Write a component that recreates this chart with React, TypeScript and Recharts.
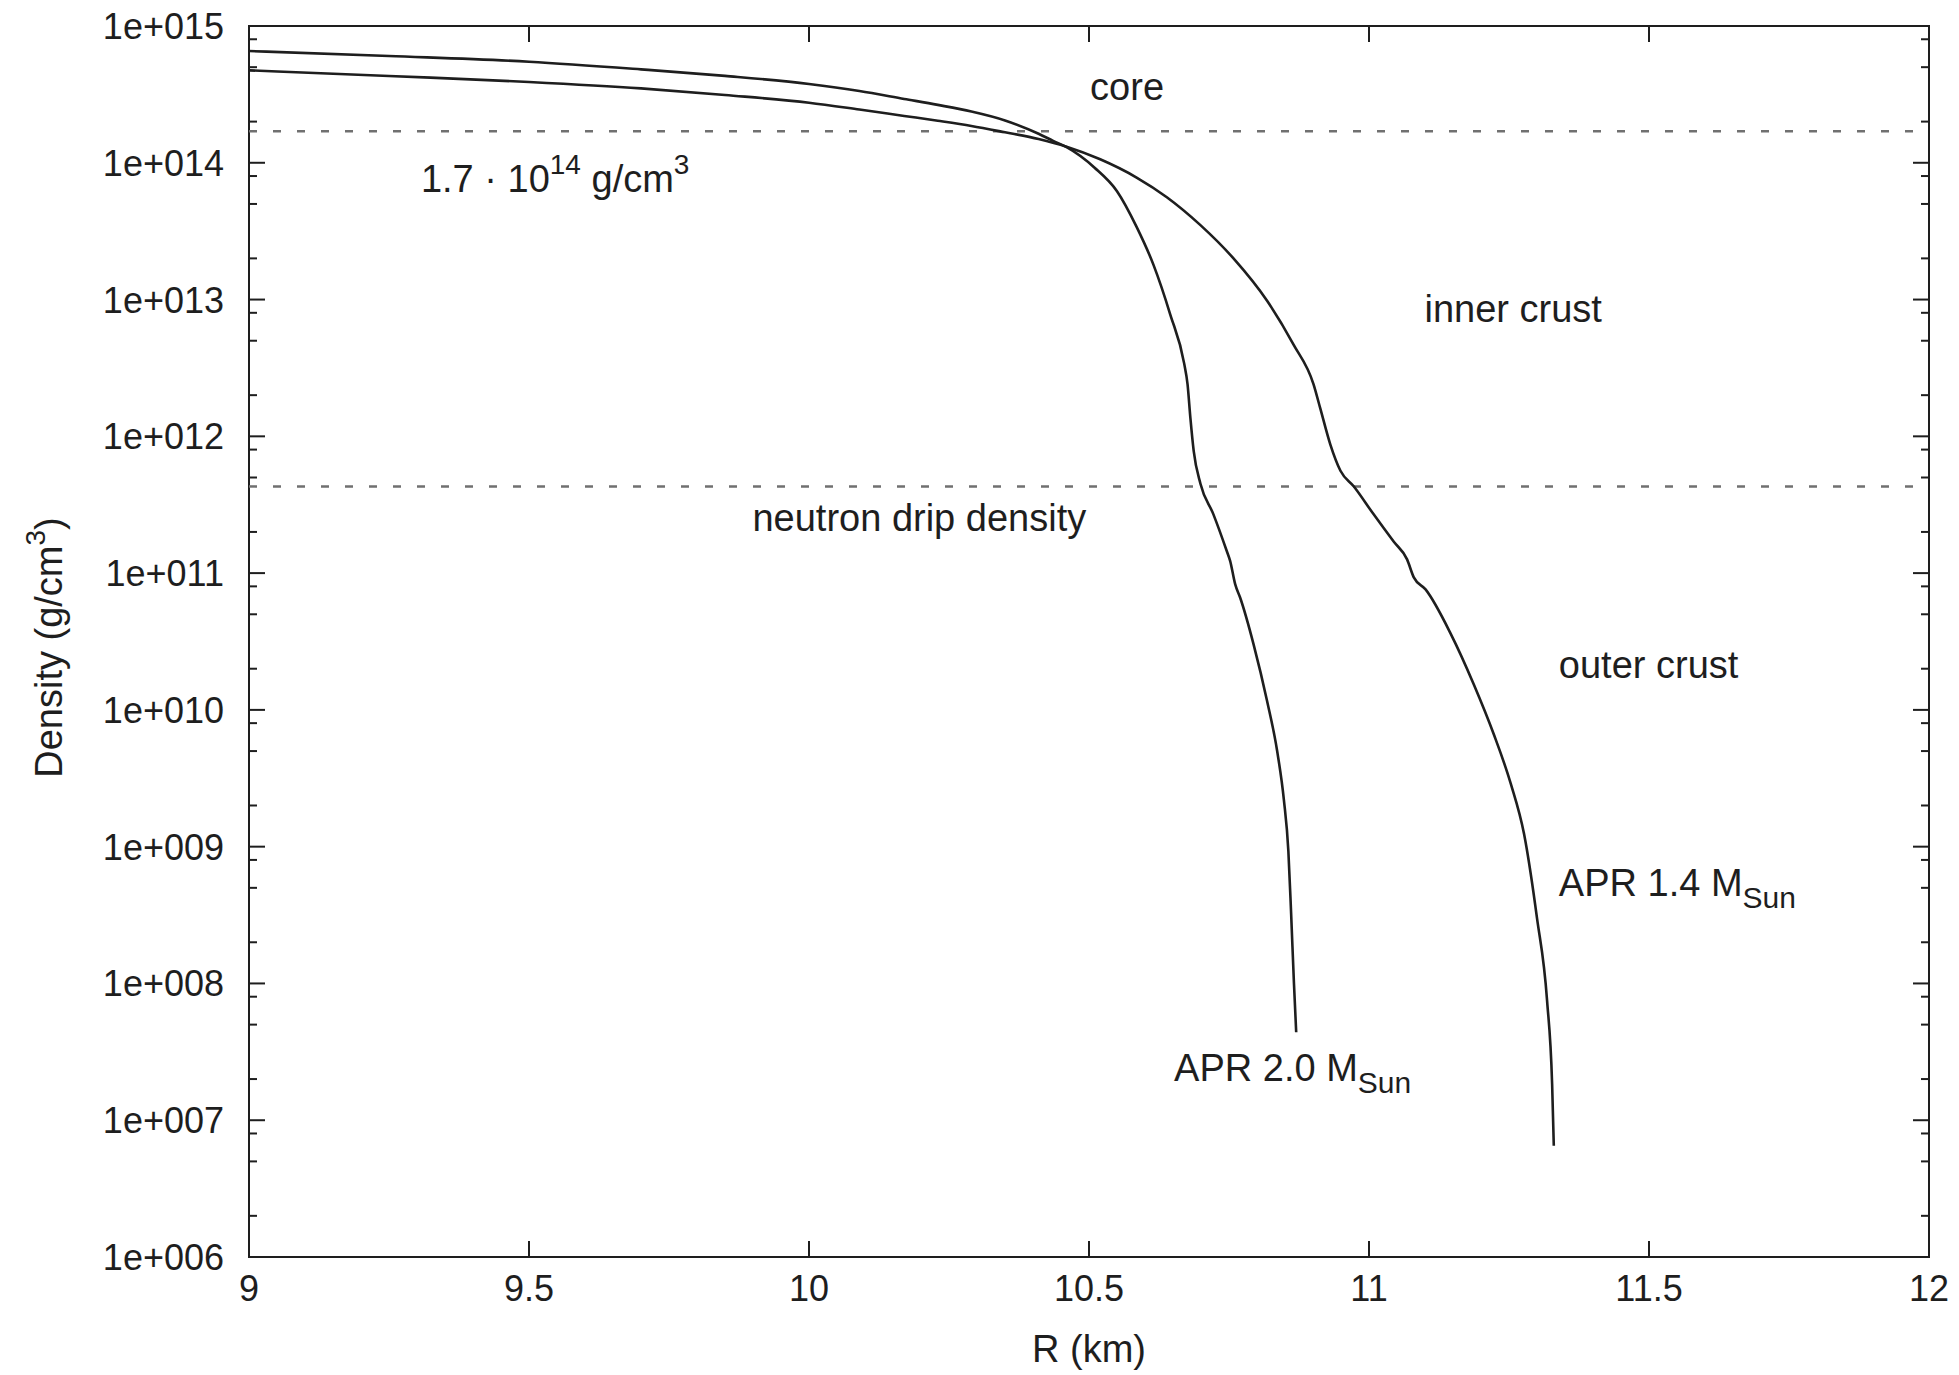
import * as React from 'react';
import { LineChart, Line, XAxis, YAxis, ReferenceLine, ReferenceDot, ReferenceArea } from 'recharts';

// APR 2.0 M_sun profile: radius (km) and density (g/cm^3)
const radius20 = [9.0, 9.25, 9.5, 9.7, 9.85, 10.0, 10.09, 10.17, 10.23, 10.29, 10.35, 10.41, 10.436, 10.46, 10.51, 10.55, 10.585, 10.615, 10.645, 10.67, 10.676, 10.681, 10.687, 10.699, 10.722, 10.746, 10.752, 10.761, 10.77, 10.794, 10.818, 10.836, 10.848, 10.856, 10.861, 10.866, 10.87];
const density20 = [6.56e14, 6.03e14, 5.48e14, 4.82e14, 4.32e14, 3.77e14, 3.35e14, 2.93e14, 2.65e14, 2.37e14, 2.04e14, 1.63e14, 1.445e14, 1.3e14, 9.2e13, 6.2e13, 3.4e13, 1.8e13, 7.8e12, 3.4e12, 2.4e12, 1.37e12, 7.8e11, 4.5e11, 2.7e11, 1.45e11, 1.23e11, 8.3e10, 6.6e10, 3.0e10, 1.16e10, 5.0e9, 2.2e9, 9.3e8, 3.2e8, 1.0e8, 4.4e7];

// APR 1.4 M_sun profile
const radius14 = [9.0, 9.25, 9.5, 9.7, 9.85, 10.0, 10.09, 10.17, 10.23, 10.29, 10.35, 10.41, 10.46, 10.52, 10.585, 10.639, 10.699, 10.758, 10.818, 10.865, 10.901, 10.913, 10.931, 10.949, 10.973, 11.008, 11.044, 11.068, 11.08, 11.101, 11.146, 11.187, 11.223, 11.253, 11.277, 11.3, 11.318, 11.327, 11.33];
const density14 = [4.74e14, 4.31e14, 3.9e14, 3.5e14, 3.13e14, 2.75e14, 2.45e14, 2.2e14, 2.03e14, 1.86e14, 1.67e14, 1.49e14, 1.31e14, 1.06e14, 7.8e13, 5.6e13, 3.5e13, 2.0e13, 9.8e12, 4.7e12, 2.4e12, 1.6e12, 8.7e11, 5.6e11, 4.3e11, 2.7e11, 1.7e11, 1.26e11, 9.3e10, 7.6e10, 3.6e10, 1.54e10, 6.6e9, 2.9e9, 1.23e9, 3.0e8, 7.5e7, 1.84e7, 6.5e6];

const xTicks = [9, 9.5, 10, 10.5, 11, 11.5, 12];
const yTicks = [1e6, 1e7, 1e8, 1e9, 1e10, 1e11, 1e12, 1e13, 1e14, 1e15];
const minorMultipliers = [2, 5, 8];

const coreDensity = 1.7e14;
const dripDensity = 4.3e11;

const yMinorTicks = yTicks.slice(0, -1).flatMap((d) => minorMultipliers.map((m) => m * d));
const yAllTicks = [...yTicks, ...yMinorTicks].sort((a, b) => a - b);
const data20 = radius20.map((r, i) => ({ r, rho: density20[i] }));
const data14 = radius14.map((r, i) => ({ r, rho: density14[i] }));

const W = 1959;
const H = 1375;
const PLOT = { left: 249, top: 26, right: 1929, bottom: 1257 };

const FONT = '"Liberation Sans", Arial, Helvetica, sans-serif';
const INK = '#1e1e1e';
const TICK_FS = 36;
const FS = 38;

const fmtExp = (v: number) => '1e+' + String(Math.round(Math.log10(v))).padStart(3, '0');

const YTick = (props: any) => {
  const { y, payload } = props;
  const major = yTicks.includes(payload.value);
  const len = major ? 16 : 8;
  return (
    <g>
      <line x1={PLOT.left} x2={PLOT.left + len} y1={y} y2={y} stroke={INK} strokeWidth={2} />
      <line x1={PLOT.right - len} x2={PLOT.right} y1={y} y2={y} stroke={INK} strokeWidth={2} />
      {major && (
        <text x={PLOT.left - 25} y={y} dy={13} textAnchor="end" fontFamily={FONT} fontSize={TICK_FS} fill={INK}>
          {fmtExp(payload.value)}
        </text>
      )}
    </g>
  );
};

const XTick = (props: any) => {
  const { x, payload } = props;
  return (
    <g>
      <line x1={x} x2={x} y1={PLOT.bottom - 16} y2={PLOT.bottom} stroke={INK} strokeWidth={2} />
      <line x1={x} x2={x} y1={PLOT.top} y2={PLOT.top + 16} stroke={INK} strokeWidth={2} />
      <text x={x} y={PLOT.bottom + 44} textAnchor="middle" fontFamily={FONT} fontSize={TICK_FS} fill={INK}>
        {payload.value}
      </text>
    </g>
  );
};

const annot = (body: React.ReactNode) => (props: any) => {
  const vb = props.viewBox || {};
  return (
    <text x={vb.x} y={vb.y} fontFamily={FONT} fontSize={FS} fill={INK}>
      {body}
    </text>
  );
};

const yLabel = (props: any) => {
  const vb = props.viewBox;
  const cx = vb.x + 62;
  const cy = vb.y + vb.height / 2 + 6;
  return (
    <text x={cx} y={cy} transform={`rotate(-90, ${cx}, ${cy})`} textAnchor="middle" fontFamily={FONT} fontSize={FS} fill={INK}>
      Density (g/cm<tspan fontSize={28} dy={-17}>3</tspan><tspan dy={17}>)</tspan>
    </text>
  );
};

const xLabel = (props: any) => {
  const vb = props.viewBox;
  return (
    <text x={vb.x + vb.width / 2} y={vb.y + 105} textAnchor="middle" fontFamily={FONT} fontSize={FS} fill={INK}>
      R (km)
    </text>
  );
};

const msun = (mass: string) => (
  <>
    APR {mass} M<tspan fontSize={30} dy={12}>Sun</tspan>
  </>
);

export default function App() {
  return (
    <div style={{ position: 'absolute', left: 0, top: 0, background: '#fff' }}>
      <LineChart
        width={W}
        height={H}
        margin={{ top: PLOT.top, right: W - PLOT.right, bottom: 0, left: 0 }}
      >
        <XAxis
          dataKey="r"
          type="number"
          domain={[9, 12]}
          ticks={xTicks}
          interval={0}
          allowDataOverflow
          height={H - PLOT.bottom}
          axisLine={false}
          tickLine={false}
          tick={<XTick />}
          label={{ content: xLabel }}
        />
        <YAxis
          scale="log"
          domain={[1e6, 1e15]}
          ticks={yAllTicks}
          interval={0}
          allowDataOverflow
          width={PLOT.left}
          axisLine={false}
          tickLine={false}
          tick={<YTick />}
          label={{ content: yLabel }}
        />

        <ReferenceArea x1={9} x2={12} y1={1e6} y2={1e15} fill="none" stroke={INK} strokeWidth={2} />

        <ReferenceLine y={coreDensity} stroke="#707070" strokeWidth={2.5} strokeDasharray="8 16" />
        <ReferenceLine y={dripDensity} stroke="#707070" strokeWidth={2.5} strokeDasharray="8 16" />

        <Line data={data20} dataKey="rho" type="monotone" stroke={INK} strokeWidth={2.6} dot={false} isAnimationActive={false} />
        <Line data={data14} dataKey="rho" type="monotone" stroke={INK} strokeWidth={2.6} dot={false} isAnimationActive={false} />

        <ReferenceDot x={10.502} y={2.88e14} r={0} fill="none" stroke="none" label={{ content: annot('core') }} />
        <ReferenceDot
          x={9.307}
          y={6.15e13}
          r={0}
          fill="none"
          stroke="none"
          label={{
            content: annot(
              <>
                1.7 · 10<tspan fontSize={28} dy={-18}>14</tspan>
                <tspan dy={18}> g/cm</tspan>
                <tspan fontSize={28} dy={-18}>3</tspan>
              </>
            ),
          }}
        />
        <ReferenceDot x={11.099} y={6.86e12} r={0} fill="none" stroke="none" label={{ content: annot('inner crust') }} />
        <ReferenceDot x={9.899} y={2.03e11} r={0} fill="none" stroke="none" label={{ content: annot('neutron drip density') }} />
        <ReferenceDot x={11.339} y={1.71e10} r={0} fill="none" stroke="none" label={{ content: annot('outer crust') }} />
        <ReferenceDot x={11.339} y={4.37e8} r={0} fill="none" stroke="none" label={{ content: annot(msun('1.4')) }} />
        <ReferenceDot x={10.652} y={1.94e7} r={0} fill="none" stroke="none" label={{ content: annot(msun('2.0')) }} />
      </LineChart>
    </div>
  );
}
